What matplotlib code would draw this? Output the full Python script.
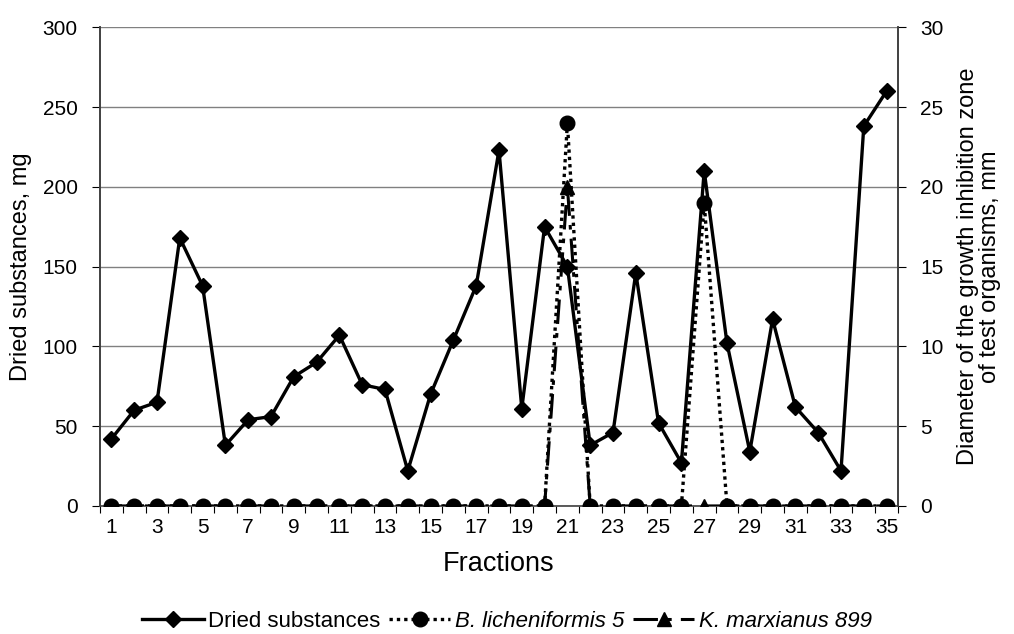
import matplotlib.pyplot as plt
import numpy as np

plt.rcParams['font.family'] = ['Liberation Sans', 'DejaVu Sans']

fractions = list(range(1, 36))
dried = [42, 60, 65, 168, 138, 38, 54, 56, 81, 90,
         107, 76, 73, 22, 70, 104, 138, 223, 61, 175,
         150, 38, 46, 146, 52, 27, 210, 102, 34, 117,
         62, 46, 22, 238, 260]
b_lich = [0] * 35
b_lich[20] = 24
b_lich[26] = 19
k_marx = [0] * 35
k_marx[20] = 20

fig = plt.figure(figsize=(10.14, 6.34), dpi=100)
ax = fig.add_axes([0.0986, 0.202, 0.787, 0.755])
ax2 = ax.twinx()

x = np.array(fractions)
l1, = ax.plot(x, dried, color='black', lw=2.4, marker='D', ms=8, zorder=3)
l3, = ax2.plot(x, k_marx, color='black', lw=2.2, marker='^', ms=10,
               linestyle=(0, (8, 3, 1.5, 3)), zorder=2)
l2, = ax2.plot(x, b_lich, color='black', lw=2.4, marker='o', ms=10.5,
               linestyle=(0, (1, 1.2)), zorder=3)

ax.set_xlim(0.5, 35.5)
ax.set_ylim(0, 300)
ax2.set_ylim(0, 30)
ax.set_yticks(range(0, 301, 50))
ax2.set_yticks(range(0, 31, 5))
ax.set_xticks(range(1, 36, 2))
ax.set_xticks(np.arange(0.5, 36, 1), minor=True)
ax.tick_params(axis='x', which='major', length=0, labelsize=15, pad=9)
ax.tick_params(axis='x', which='minor', length=5, width=0.8, direction='out')
ax.tick_params(axis='y', labelsize=15, length=6, width=0.8, pad=10)
ax2.tick_params(axis='y', labelsize=15, length=6, width=0.8, pad=10)

ax.grid(axis='y', color='#808080', lw=1)
ax.set_axisbelow(True)
for a in (ax, ax2):
    a.spines['top'].set_visible(False)
    for s in ('left', 'right', 'bottom'):
        a.spines[s].set_color('#404040')
        a.spines[s].set_linewidth(1.2)
ax2.spines['bottom'].set_visible(False)

ax.set_xlabel('Fractions', fontsize=19.5, labelpad=10)
ax.set_ylabel('Dried substances, mg', fontsize=17, labelpad=8)
ax2.set_ylabel('Diameter of the growth inhibition zone\nof test organisms, mm',
               fontsize=17, labelpad=10, linespacing=1.0)

leg = fig.legend([l1, l2, l3],
                 ['Dried substances', 'B. licheniformis 5', 'K. marxianus 899'],
                 loc='center', bbox_to_anchor=(0.50, 0.02), ncol=3,
                 frameon=False, fontsize=16, handlelength=2.75,
                 columnspacing=0.4, handletextpad=0.2)
leg.get_texts()[1].set_style('italic')
leg.get_texts()[2].set_style('italic')

fig.savefig('out.png', dpi=100)
